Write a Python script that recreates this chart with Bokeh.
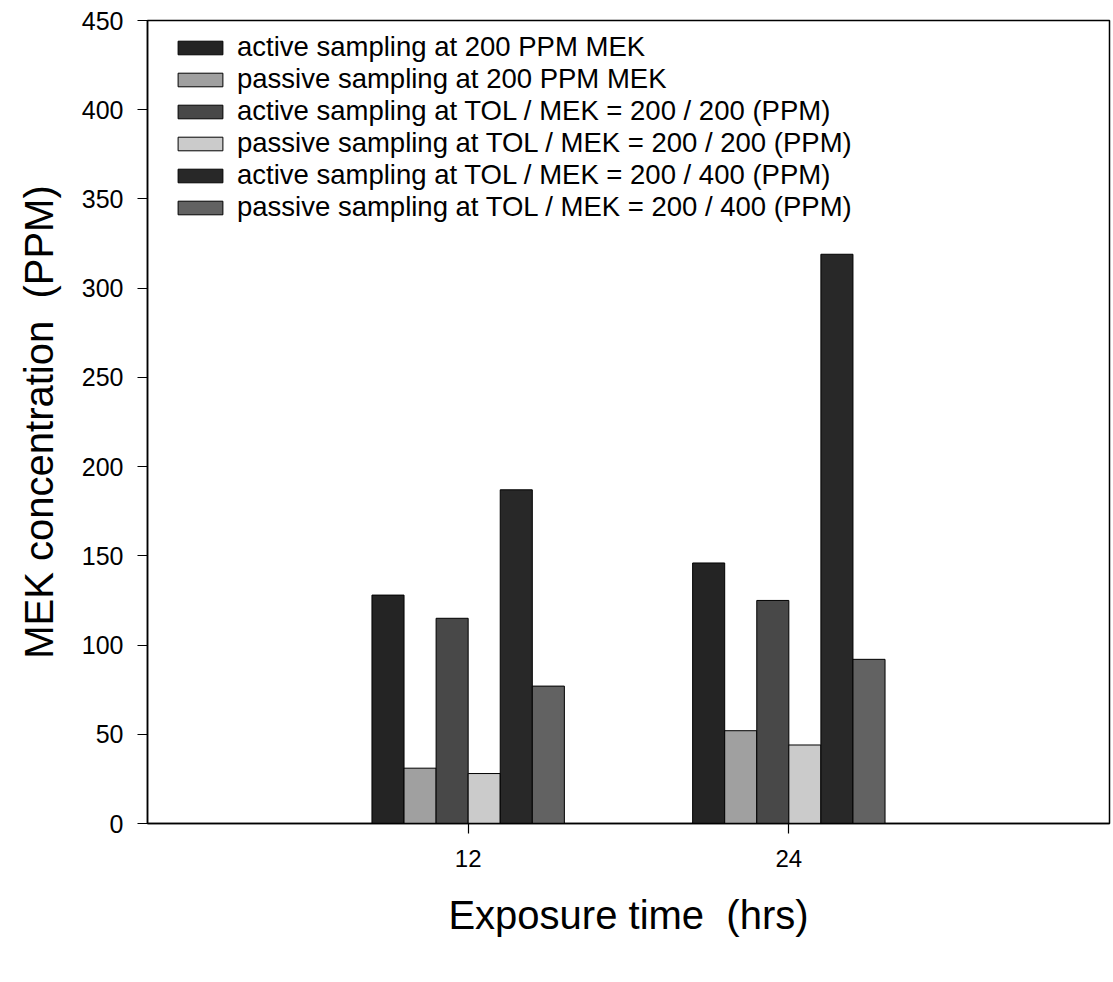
from bokeh.plotting import figure
from bokeh.models import ColumnDataSource, Legend, LegendItem, FixedTicker, Range1d
from bokeh.embed import file_html
from bokeh.resources import INLINE

# ---- data ----
hours = [12, 24]
series_names = [
    "active sampling at 200 PPM MEK",
    "passive sampling at 200 PPM MEK",
    "active sampling at TOL / MEK = 200 / 200 (PPM)",
    "passive sampling at TOL / MEK = 200 / 200 (PPM)",
    "active sampling at TOL / MEK = 200 / 400 (PPM)",
    "passive sampling at TOL / MEK = 200 / 400 (PPM)",
]
active_200 = [128, 146]
passive_200 = [31, 52]
active_tol_200_200 = [115, 125]
passive_tol_200_200 = [28, 44]
active_tol_200_400 = [187, 319]
passive_tol_200_400 = [77, 92]
series_values = [active_200, passive_200, active_tol_200_200,
                 passive_tol_200_200, active_tol_200_400, passive_tol_200_400]
colors = ["#242424", "#a0a0a0", "#484848", "#cbcbcb", "#282828", "#626262"]
y_ticks = [0, 50, 100, 150, 200, 250, 300, 350, 400, 450]

FONT = "Liberation Sans"
W, H = 1113, 982
left, right, top, bottom = 147, 4, 20, 159

p = figure(width=W, height=H, output_backend="svg", toolbar_location=None,
           x_range=Range1d(0, 36), y_range=Range1d(0, 450),
           min_border_left=left, min_border_right=right,
           min_border_top=top, min_border_bottom=bottom)
p.xgrid.visible = False
p.ygrid.visible = False
p.outline_line_color = "black"
p.outline_line_width = 1.5
p.background_fill_color = "white"
p.border_fill_color = "white"

bar_w = 1.2
n = len(series_values)
renderers = []
for i, (vals, col) in enumerate(zip(series_values, colors)):
    xs = [h + (i - (n - 1) / 2) * bar_w for h in hours]
    src = ColumnDataSource(dict(x=xs, top=vals))
    r = p.vbar(x="x", top="top", width=bar_w, bottom=0, source=src,
               fill_color=col, line_color="black", line_width=1)
    renderers.append(r)

# axes
p.xaxis.ticker = FixedTicker(ticks=hours)
p.yaxis.ticker = FixedTicker(ticks=y_ticks)
for ax in (p.xaxis[0], p.yaxis[0]):
    ax.axis_line_color = "black"
    ax.axis_line_width = 1.5
    ax.major_tick_line_color = "black"
    ax.major_tick_line_width = 1.2
    ax.major_tick_in = 0
    ax.major_tick_out = 10
    ax.minor_tick_line_color = None
    ax.major_label_text_font = FONT
    ax.major_label_text_color = "black"
    ax.axis_label_text_font = FONT
    ax.axis_label_text_font_style = "normal"
    ax.axis_label_text_color = "black"
    ax.axis_label_text_font_size = "40px"

p.xaxis.axis_label = "Exposure time \u00a0(hrs)"
p.yaxis.axis_label = "MEK concentration \u00a0(PPM)"
p.xaxis.major_label_text_font_size = "24px"
p.yaxis.major_label_text_font_size = "25px"
p.xaxis.major_label_standoff = 16
p.yaxis.major_label_standoff = 14
p.xaxis.axis_label_standoff = 23
p.yaxis.axis_label_standoff = 18

items = [LegendItem(label=name, renderers=[r]) for name, r in zip(series_names, renderers)]
frame_h = H - top - bottom
legend = Legend(items=items, location=(25, frame_h - 11 - 6 * 32),
                orientation="vertical", border_line_color=None,
                background_fill_alpha=0, padding=0, margin=0, spacing=0,
                glyph_width=56, glyph_height=17, label_height=32,
                label_standoff=9, label_text_font=FONT,
                label_text_font_size="27.5px", label_text_color="black")
p.add_layout(legend, "center")

open("out.html", "w").write(file_html(p, INLINE))
